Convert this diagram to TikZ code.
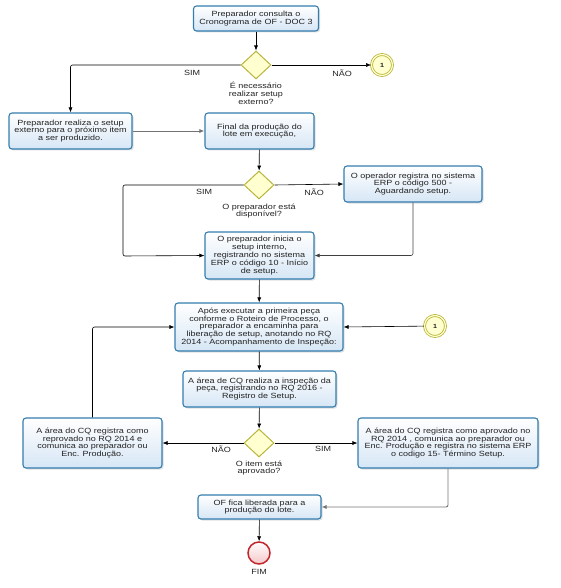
\documentclass[tikz,border=0pt]{standalone}
\usepackage{fontspec}
\setmainfont{Liberation Sans}[FakeStretch=1.2]
\usetikzlibrary{shapes.geometric, arrows.meta, positioning, shadows}
\definecolor{taskborder}{RGB}{52,125,175}
\definecolor{taskfill}{RGB}{214,230,245}
\definecolor{gateborder}{RGB}{185,180,60}
\definecolor{gatefill}{RGB}{255,255,208}
\definecolor{endborder}{RGB}{192,40,45}
\definecolor{endfill}{RGB}{244,198,200}
\definecolor{txt}{RGB}{35,35,35}
\tikzstyle{task} = [rectangle, rounded corners=3pt, draw=taskborder, line width=1.1pt, top color=white, bottom color=taskfill, align=center, text=txt, font=\fontsize{7.5}{7.8}\selectfont, inner sep=1pt, drop shadow={opacity=0.25, shadow xshift=1.5pt, shadow yshift=-1.5pt}]
\tikzstyle{gate} = [diamond, draw=gateborder, fill=gatefill, line width=1pt, minimum width=30pt, minimum height=28pt, inner sep=0pt]
\tikzstyle{link} = [circle, draw=gateborder, line width=0.8pt, double=gatefill, double distance=1.2pt, fill=gatefill, minimum size=21pt, inner sep=0pt, text=txt, font=\fontsize{6}{6}\selectfont\bfseries]
\tikzstyle{finish} = [circle, draw=endborder, line width=1.5pt, top color=white, bottom color=endfill, minimum size=22pt, inner sep=0pt]
\tikzstyle{lbl} = [align=center, text=txt, inner sep=0pt, font=\fontsize{7.5}{7.8}\selectfont]
\tikzstyle{reg} = [-{Latex[length=5pt,width=4pt]}, black, line width=0.6pt, rounded corners=2pt]
\tikzstyle{regg} = [-{Latex[length=5pt,width=4pt]}, black!55, line width=0.9pt, rounded corners=2pt]

\begin{document}
\begin{tikzpicture}[x=1pt, y=-1pt]
  \useasboundingbox (0,0) rectangle (561,588);

  % Start
  \node[task, minimum width=125pt, minimum height=25pt] (consulta) at (256,18.5) {Preparador consulta o\\Cronograma de OF - DOC 3};

  % Setup externo?
  \node[gate] (externo) at (256,65) {};
  \node[lbl] (qExterno) at (256,93) {É necessário\\realizar setup\\externo?};
  \node[lbl] (simA) at (192,73) {SIM};
  \node[lbl] (naoA) at (342,73) {NÃO};
  \node[link] (conA) at (382,65) {1};

  \node[task, minimum width=123pt, minimum height=36pt] (setupExt) at (70.5,131) {Preparador realiza o setup\\externo para o próximo item\\a ser produzido.};
  \node[task, minimum width=109pt, minimum height=36pt] (finalLote) at (259.5,131) {Final da produção do\\lote em execução,};

  % Preparador disponivel?
  \node[gate] (disponivel) at (259,185) {};
  \node[lbl] (qPrep) at (259,211) {O preparador está\\disponível?};
  \node[lbl] (simB) at (204,192) {SIM};
  \node[lbl] (naoB) at (314,192) {NÃO};
  \node[task, minimum width=138pt, minimum height=36pt] (operador) at (413,184) {O operador  registra no sistema\\ERP o código 500 -\\Aguardando setup.};
  \coordinate (cantoB) at (123,256);

  \node[task, minimum width=109pt, minimum height=47pt] (iniciaSetup) at (259.5,255.5) {O preparador inicia o\\setup interno,\\registrando no sistema\\ERP o código 10 - Início\\de setup.};
  \node[task, minimum width=168pt, minimum height=48pt] (apos) at (259,327) {Após executar a primeira peça\\conforme o Roteiro de Processo, o\\preparador a encaminha para\\liberação de setup, anotando no  RQ\\2014 - Acompanhamento de Inspeção:};
  \node[link] (conB) at (435,326) {1};
  \node[task, minimum width=153pt, minimum height=36pt] (inspecao) at (259.5,389) {A área de CQ realiza a inspeção da\\peça, registrando no RQ 2016 -\\Registro de Setup.};

  % Item aprovado?
  \node[gate] (aprovado) at (259,443) {};
  \node[lbl] (qItem) at (259,468) {O item está\\aprovado?};
  \node[lbl] (naoC) at (221,449) {NÃO};
  \node[lbl] (simC) at (323,449) {SIM};
  \node[task, minimum width=139pt, minimum height=50pt] (reprovadoBox) at (92.5,443) {A área do CQ  registra como\\reprovado  no RQ 2014 e\\comunica ao preparador ou\\Enc. Produção.};
  \node[task, minimum width=180pt, minimum height=50pt] (aprovadoBox) at (448,443) {A área do CQ  registra como aprovado  no\\RQ 2014 , comunica ao preparador ou\\Enc. Produção e registra no sistema ERP\\o codigo 15- Término Setup.};

  % End
  \node[task, minimum width=123pt, minimum height=24pt] (libera) at (259.5,507) {OF fica liberada para a\\produção do lote.};
  \node[finish] (fim) at (259,553) {};
  \node[lbl] (fimLbl) at (259,572) {FIM};

  % Fluxo
  \draw[reg] (consulta) -- (externo);
  \draw[reg] (externo.west) -| (setupExt.north);
  \draw[reg] (externo.east) -- (conA);
  \draw[regg] (setupExt) -- (finalLote);
  \draw[reg] (finalLote) -- (disponivel);
  \draw[reg] (disponivel.west) -| (cantoB) -- (iniciaSetup.west);
  \draw[reg] (disponivel.east) -- (operador.west);
  \draw[reg, black!75] (operador.south) |- (iniciaSetup.east);
  \draw[reg] (iniciaSetup) -- (apos);
  \draw[reg] (conB) -- (apos.east);
  \draw[reg] (reprovadoBox.north) |- (apos.west);
  \draw[reg] (apos) -- (inspecao);
  \draw[reg] (inspecao) -- (aprovado);
  \draw[reg] (aprovado.west) -- (reprovadoBox.east);
  \draw[reg] (aprovado.east) -- (aprovadoBox.west);
  \draw[regg] (aprovadoBox.south) |- (libera.east);
  \draw[reg] (libera) -- (fim);
\end{tikzpicture}
\end{document}
